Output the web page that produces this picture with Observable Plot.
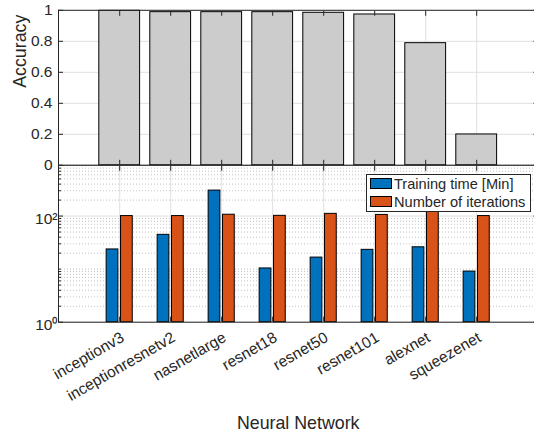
<!DOCTYPE html>
<html>
<head>
<meta charset="utf-8">
<script src="https://cdn.jsdelivr.net/npm/d3@7"></script>
<script src="https://cdn.jsdelivr.net/npm/@observablehq/plot@0.6"></script>
<style>
  html, body { margin: 0; padding: 0; background: #fff; }
  #wrap { position: relative; width: 534px; height: 433px; overflow: hidden; background: #fff;
          font-family: "Liberation Sans", Arial, Helvetica, sans-serif; color: #262626; }
  #wrap svg { position: absolute; left: 0; top: 0; }
  #legend { position: absolute; left: 366px; top: 174px; width: 163px; height: 36px;
            background: #fff; border: 1px solid #262626; font-size: 14.6px; color: #262626; }
  #legend .item { position: absolute; left: 3px; height: 13px; display: flex; align-items: center; white-space: nowrap; }
  #legend .sw { width: 22px; height: 11px; border: 1px solid #000; margin-right: 2px; box-sizing: border-box; }
</style>
</head>
<body>
<div id="wrap"></div>
<script>
// ---- data ----
const networks = ["inceptionv3", "inceptionresnetv2", "nasnetlarge", "resnet18", "resnet50", "resnet101", "alexnet", "squeezenet"];
const accuracy = [0.997, 0.988, 0.988, 0.988, 0.984, 0.973, 0.788, 0.199];
const trainingTime = [23.5, 44.3, 302, 10.3, 16.5, 23.1, 25.8, 9.0];
const iterations = [100, 100, 106, 101, 110, 105, 120, 100];
const seriesNames = ["Training time [Min]", "Number of iterations"];
const seriesColors = ["#0072BD", "#D95319"];
const accuracyTicks = [0, 0.2, 0.4, 0.6, 0.8, 1];
const logMajorTicks = [1, 100];
const logTickLabels = {1: "10\u2070", 100: "10\u00B2"};
const xLabel = "Neural Network";
const yLabelTop = "Accuracy";

// ---- layout helpers ----
const ink = "#262626";
const gridColor = "#dfdfdf";
const font = "'Liberation Sans', Arial, Helvetica, sans-serif";
const W = 538, xDomain = [-0.2, 9.2];
const mL = 58, mR = 0.6;
const yTop0 = 164.8, yTop1 = 9.8, yBot = 321.7;
const logMax = 905;

const pos = networks.map((d, i) => i + 1);
const topData = networks.map((n, i) => ({name: n, pos: i + 1, acc: accuracy[i]}));
const barData = networks.flatMap((n, i) => [
  {name: n, pos: i + 1, series: seriesNames[0], value: trainingTime[i], off: -0.141},
  {name: n, pos: i + 1, series: seriesNames[1], value: iterations[i], off: 0.141}
]);
const minorLogTicks = [1, 10, 100].flatMap(b => d3.range(2, 11).map(k => k * b))
  .filter(v => v <= logMax && !logMajorTicks.includes(v));
const svgStyle = {fontFamily: font, fontSize: "15.5px", color: ink, background: "transparent", overflow: "visible", maxWidth: "none"};

// ---- top panel: accuracy ----
const topPlot = Plot.plot({
  width: W, height: 180,
  marginLeft: mL, marginRight: mR, marginTop: yTop1, marginBottom: 180 - yTop0,
  x: {domain: xDomain, axis: null},
  y: {domain: [0, 1], axis: null},
  style: svgStyle,
  marks: [
    Plot.gridY(accuracyTicks, {stroke: gridColor, strokeOpacity: 1}),
    Plot.gridX(pos, {stroke: gridColor, strokeOpacity: 1}),
    Plot.rectY(topData, {x1: d => d.pos - 0.4, x2: d => d.pos + 0.4, y: "acc", fill: "#cccccc", stroke: "#000", strokeWidth: 1}),
    Plot.axisY(accuracyTicks, {anchor: "left", tickSize: 5, dx: 5, fill: "none", stroke: ink, label: null}),
    Plot.axisY(accuracyTicks, {anchor: "right", tickSize: 5, dx: -5, fill: "none", stroke: ink, label: null}),
    Plot.axisX(pos, {anchor: "bottom", tickSize: 5, dy: -5, fill: "none", stroke: ink, label: null}),
    Plot.axisX(pos, {anchor: "top", tickSize: 5, dy: 5, fill: "none", stroke: ink, label: null}),
    Plot.axisY(accuracyTicks, {anchor: "left", tickSize: 0, tickPadding: 6, tickFormat: d => String(d), fill: ink, fontSize: 15.5, label: null}),
    Plot.frame({stroke: ink}),
    Plot.text([yLabelTop], {frameAnchor: "left", rotate: -90, dx: -38.5, lineAnchor: "middle", fontSize: 17.8, fill: ink})
  ]
});

// ---- bottom panel: training time & iterations (log) ----
const botPlot = Plot.plot({
  width: W, height: 433,
  marginLeft: mL, marginRight: mR, marginTop: yTop0, marginBottom: 433 - yBot,
  x: {domain: xDomain, axis: null},
  y: {type: "log", domain: [1, logMax], axis: null},
  color: {domain: seriesNames, range: seriesColors},
  style: svgStyle,
  marks: [
    Plot.gridY(minorLogTicks, {stroke: "#c2c2c2", strokeOpacity: 1, strokeDasharray: "1,2"}),
    Plot.gridY(logMajorTicks, {stroke: gridColor, strokeOpacity: 1}),
    Plot.gridX(pos, {stroke: gridColor, strokeOpacity: 1}),
    Plot.rectY(barData, {
      x1: d => d.pos + d.off - 0.115, x2: d => d.pos + d.off + 0.115,
      y1: () => 1, y2: "value", fill: "series", stroke: "#000", strokeWidth: 1
    }),
    Plot.axisY(logMajorTicks, {anchor: "left", tickSize: 5, dx: 5, fill: "none", stroke: ink, label: null}),
    Plot.axisY(minorLogTicks, {anchor: "left", tickSize: 3, dx: 3, fill: "none", stroke: ink, label: null}),
    Plot.axisY(logMajorTicks, {anchor: "right", tickSize: 5, dx: -5, fill: "none", stroke: ink, label: null}),
    Plot.axisY(minorLogTicks, {anchor: "right", tickSize: 3, dx: -3, fill: "none", stroke: ink, label: null}),
    Plot.axisX(pos, {anchor: "bottom", tickSize: 5, dy: -5, fill: "none", stroke: ink, label: null}),
    Plot.axisX(pos, {anchor: "top", tickSize: 5, dy: 5, fill: "none", stroke: ink, label: null}),
    Plot.axisY(logMajorTicks, {anchor: "left", tickSize: 0, tickPadding: 1, dy: 3, tickFormat: d => logTickLabels[d], fill: ink, fontSize: 15.5, label: null}),
    Plot.axisX(pos, {anchor: "bottom", tickSize: 0, tickPadding: 14, dx: 3, tickRotate: -30, tickFormat: d => networks[d - 1], fill: ink, fontSize: 15.5, label: null}),
    Plot.frame({stroke: ink}),
    Plot.text([xLabel], {frameAnchor: "bottom", dy: 101, lineAnchor: "middle", fontSize: 17.8, fill: ink})
  ]
});

const wrap = document.getElementById("wrap");
wrap.appendChild(botPlot);
wrap.appendChild(topPlot);

// ---- legend ----
const legend = document.createElement("div");
legend.id = "legend";
seriesNames.forEach((name, i) => {
  const item = document.createElement("div");
  item.className = "item";
  item.style.top = (i === 0 ? 2 : 20) + "px";
  const sw = document.createElement("span");
  sw.className = "sw";
  sw.style.background = seriesColors[i];
  const tx = document.createElement("span");
  tx.textContent = name;
  item.appendChild(sw);
  item.appendChild(tx);
  legend.appendChild(item);
});
wrap.appendChild(legend);
</script>
</body>
</html>
